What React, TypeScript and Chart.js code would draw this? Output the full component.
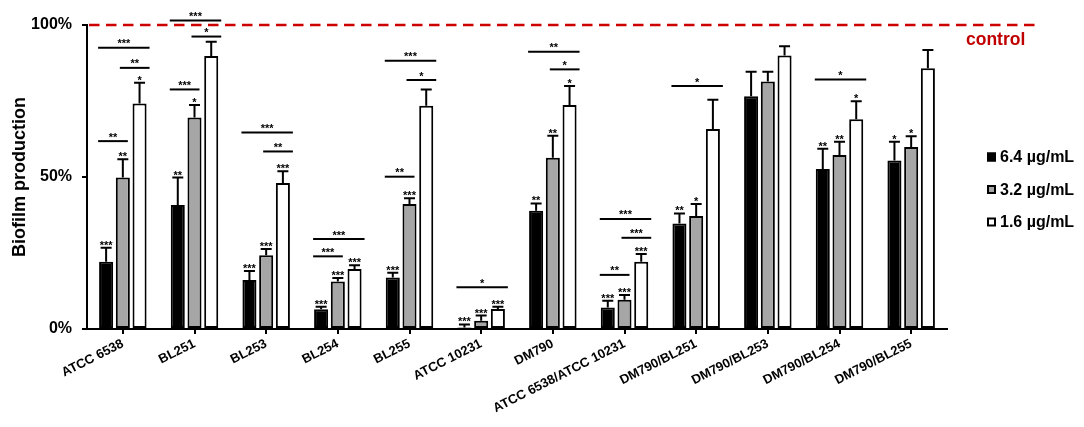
import { useEffect, useRef } from 'react';
import { Chart, registerables } from 'chart.js';

Chart.register(...registerables);

const categories = [
  'ATCC 6538', 'BL251', 'BL253', 'BL254', 'BL255', 'ATCC 10231', 'DM790',
  'ATCC 6538/ATCC 10231', 'DM790/BL251', 'DM790/BL253', 'DM790/BL254', 'DM790/BL255',
];
const seriesLabels = ['6.4 µg/mL', '3.2 µg/mL', '1.6 µg/mL'];
const seriesColors = ['#000000', '#a6a6a6', '#ffffff'];

const high = [22.1, 40.8, 16.1, 6.5, 16.9, 0.5, 38.9, 7.1, 34.7, 76.6, 52.6, 55.4];
const highErr = [4.6, 9.0, 3.0, 0.8, 1.6, 1.0, 2.4, 2.2, 3.3, 8.0, 6.7, 6.2];
const mid = [49.8, 69.6, 24.3, 15.6, 41.1, 2.7, 56.3, 9.6, 37.2, 81.4, 57.2, 59.9];
const midErr = [6.0, 4.1, 2.0, 1.2, 1.9, 1.7, 7.3, 1.6, 3.9, 3.2, 4.4, 3.5];
const low = [74.2, 89.8, 48.0, 19.7, 73.4, 6.6, 73.7, 22.1, 65.8, 90.0, 69.0, 85.8];
const lowErr = [6.8, 4.7, 3.9, 1.3, 5.4, 0.7, 6.2, 2.6, 9.6, 3.0, 5.9, 6.0];

const highStars = ['***', '**', '***', '***', '***', '***', '**', '***', '**', '', '**', '*'];
const midStars = ['**', '*', '***', '***', '***', '***', '**', '***', '*', '', '**', '*'];
const lowStars = ['*', '', '***', '***', '', '***', '*', '***', '', '', '*', ''];

// comparison brackets: group index, from series, to series, level (%), label
const bracketGroup = [0, 0, 0, 1, 1, 1, 2, 2, 3, 3, 4, 4, 4, 5, 6, 6, 7, 7, 7, 8, 10];
const bracketFrom = [0, 1, 0, 0, 1, 0, 1, 0, 0, 0, 0, 1, 0, 0, 1, 0, 0, 1, 0, 0, 0];
const bracketTo = [1, 2, 2, 1, 2, 2, 2, 2, 1, 2, 1, 2, 2, 2, 2, 2, 1, 2, 2, 2, 2];
const bracketLevel = [61.8, 85.9, 92.5, 78.8, 96.2, 101.5, 58.4, 64.6, 23.9, 29.6, 50.1, 81.9, 88.2, 13.7, 85.4, 91.2, 17.8, 30.0, 36.2, 79.9, 82.1];
const bracketLabel = ['**', '**', '***', '***', '*', '***', '**', '***', '***', '***', '**', '*', '***', '*', '*', '**', '**', '***', '***', '*', '*'];

const controlLevel = 100;
const yTicks = [0, 50, 100];

const values = [high, mid, low];
const errors = [highErr, midErr, lowErr];
const stars = [highStars, midStars, lowStars];

const FONT = "'Liberation Sans', Arial, sans-serif";

const annotate = {
  id: 'annotate',
  afterDatasetsDraw(chart: any) {
    const ctx = chart.ctx as CanvasRenderingContext2D;
    const y = chart.scales.y;
    const area = chart.chartArea;
    ctx.save();
    ctx.strokeStyle = '#000';
    ctx.fillStyle = '#000';
    ctx.lineWidth = 2;
    ctx.textAlign = 'center';
    ctx.textBaseline = 'alphabetic';
    ctx.font = `bold 11px ${FONT}`;
    // error bars + per-bar stars
    for (let d = 0; d < 3; d++) {
      const meta = chart.getDatasetMeta(d);
      meta.data.forEach((bar: any, i: number) => {
        const base = y.getPixelForValue(values[d][i]);
        const top = y.getPixelForValue(values[d][i] + errors[d][i]);
        ctx.beginPath();
        ctx.moveTo(bar.x, base);
        ctx.lineTo(bar.x, top);
        ctx.moveTo(bar.x - 5.5, top);
        ctx.lineTo(bar.x + 5.5, top);
        ctx.stroke();
        if (stars[d][i]) ctx.fillText(stars[d][i], bar.x, top + 1);
      });
    }
    // brackets
    for (let k = 0; k < bracketGroup.length; k++) {
      const g = bracketGroup[k];
      const a = chart.getDatasetMeta(bracketFrom[k]).data[g];
      const b = chart.getDatasetMeta(bracketTo[k]).data[g];
      const x1 = a.x - (bracketFrom[k] === 0 ? 8 : 3);
      const x2 = b.x + (bracketTo[k] === 2 ? 10 : 5);
      const ly = y.getPixelForValue(bracketLevel[k]);
      ctx.beginPath();
      ctx.moveTo(x1, ly);
      ctx.lineTo(x2, ly);
      ctx.stroke();
      ctx.fillText(bracketLabel[k], (x1 + x2) / 2, ly - 0.5);
    }
    // control line
    const cy = y.getPixelForValue(controlLevel);
    ctx.strokeStyle = '#cc0000';
    ctx.lineWidth = 2.5;
    ctx.setLineDash([10.5, 6.5]);
    ctx.beginPath();
    ctx.moveTo(area.left + 2, cy);
    ctx.lineTo(area.right + 90, cy);
    ctx.stroke();
    ctx.setLineDash([]);
    ctx.fillStyle = '#c00000';
    ctx.font = `bold 17.5px ${FONT}`;
    ctx.textAlign = 'left';
    ctx.textBaseline = 'middle';
    ctx.fillText('control', area.right + 19, cy + 15);
    // legend
    ctx.font = `bold 16px ${FONT}`;
    for (let d = 0; d < 3; d++) {
      const ly = 157 + d * 32.5;
      const bx = area.right + 40;
      ctx.fillStyle = seriesColors[d];
      ctx.fillRect(bx, ly - 4.5, 9, 9);
      ctx.strokeStyle = '#000';
      ctx.lineWidth = 2;
      ctx.strokeRect(bx + 1, ly - 3.5, 7, 7);
      ctx.fillStyle = '#000';
      ctx.fillText(seriesLabels[d], bx + 13, ly + 1);
    }
    ctx.restore();
  },
};

export default function App() {
  const ref = useRef<HTMLCanvasElement>(null);
  useEffect(() => {
    document.body.style.margin = '0';
    const chart = new Chart(ref.current as HTMLCanvasElement, {
      type: 'bar',
      data: {
        labels: categories,
        datasets: values.map((v, d) => ({
          label: seriesLabels[d],
          data: v,
          backgroundColor: seriesColors[d],
          borderColor: '#000',
          borderWidth: 2,
          borderSkipped: false,
          categoryPercentage: 0.7,
          barPercentage: 0.84,
        })),
      },
      options: {
        animation: false,
        responsive: false,
        layout: { padding: { left: 0, top: 25, right: 137, bottom: 0 } },
        plugins: { legend: { display: false }, tooltip: { enabled: false } },
        scales: {
          x: {
            grid: { display: true, drawOnChartArea: false, drawTicks: true, tickLength: 5, offset: false, color: '#000', lineWidth: 2 },
            border: { display: true, color: '#000', width: 2 },
            ticks: { color: '#000', font: { family: FONT, size: 13, weight: 'bold' }, maxRotation: 27, minRotation: 27, autoSkip: false, padding: 2 },
            afterFit: (s: any) => { s.height = 98; },
          },
          y: {
            min: 0,
            max: 100,
            afterBuildTicks: (s: any) => { s.ticks = yTicks.map((v) => ({ value: v })); },
            grid: { display: true, drawOnChartArea: false, drawTicks: true, tickLength: 5, color: '#000', lineWidth: 2 },
            border: { display: true, color: '#000', width: 2 },
            ticks: { color: '#000', padding: 10, font: { family: FONT, size: 16, weight: 'bold' }, callback: (v: any) => v + '%' },
            title: { display: true, text: 'Biofilm production', color: '#000', font: { family: FONT, size: 18, weight: 'bold' }, padding: { top: 9, bottom: 0 } },
            afterFit: (s: any) => { s.width = 87; },
          },
        },
      },
      plugins: [annotate],
    } as any);
    return () => chart.destroy();
  }, []);
  return <canvas ref={ref} width={1084} height={427} style={{ display: 'block' }} />;
}
